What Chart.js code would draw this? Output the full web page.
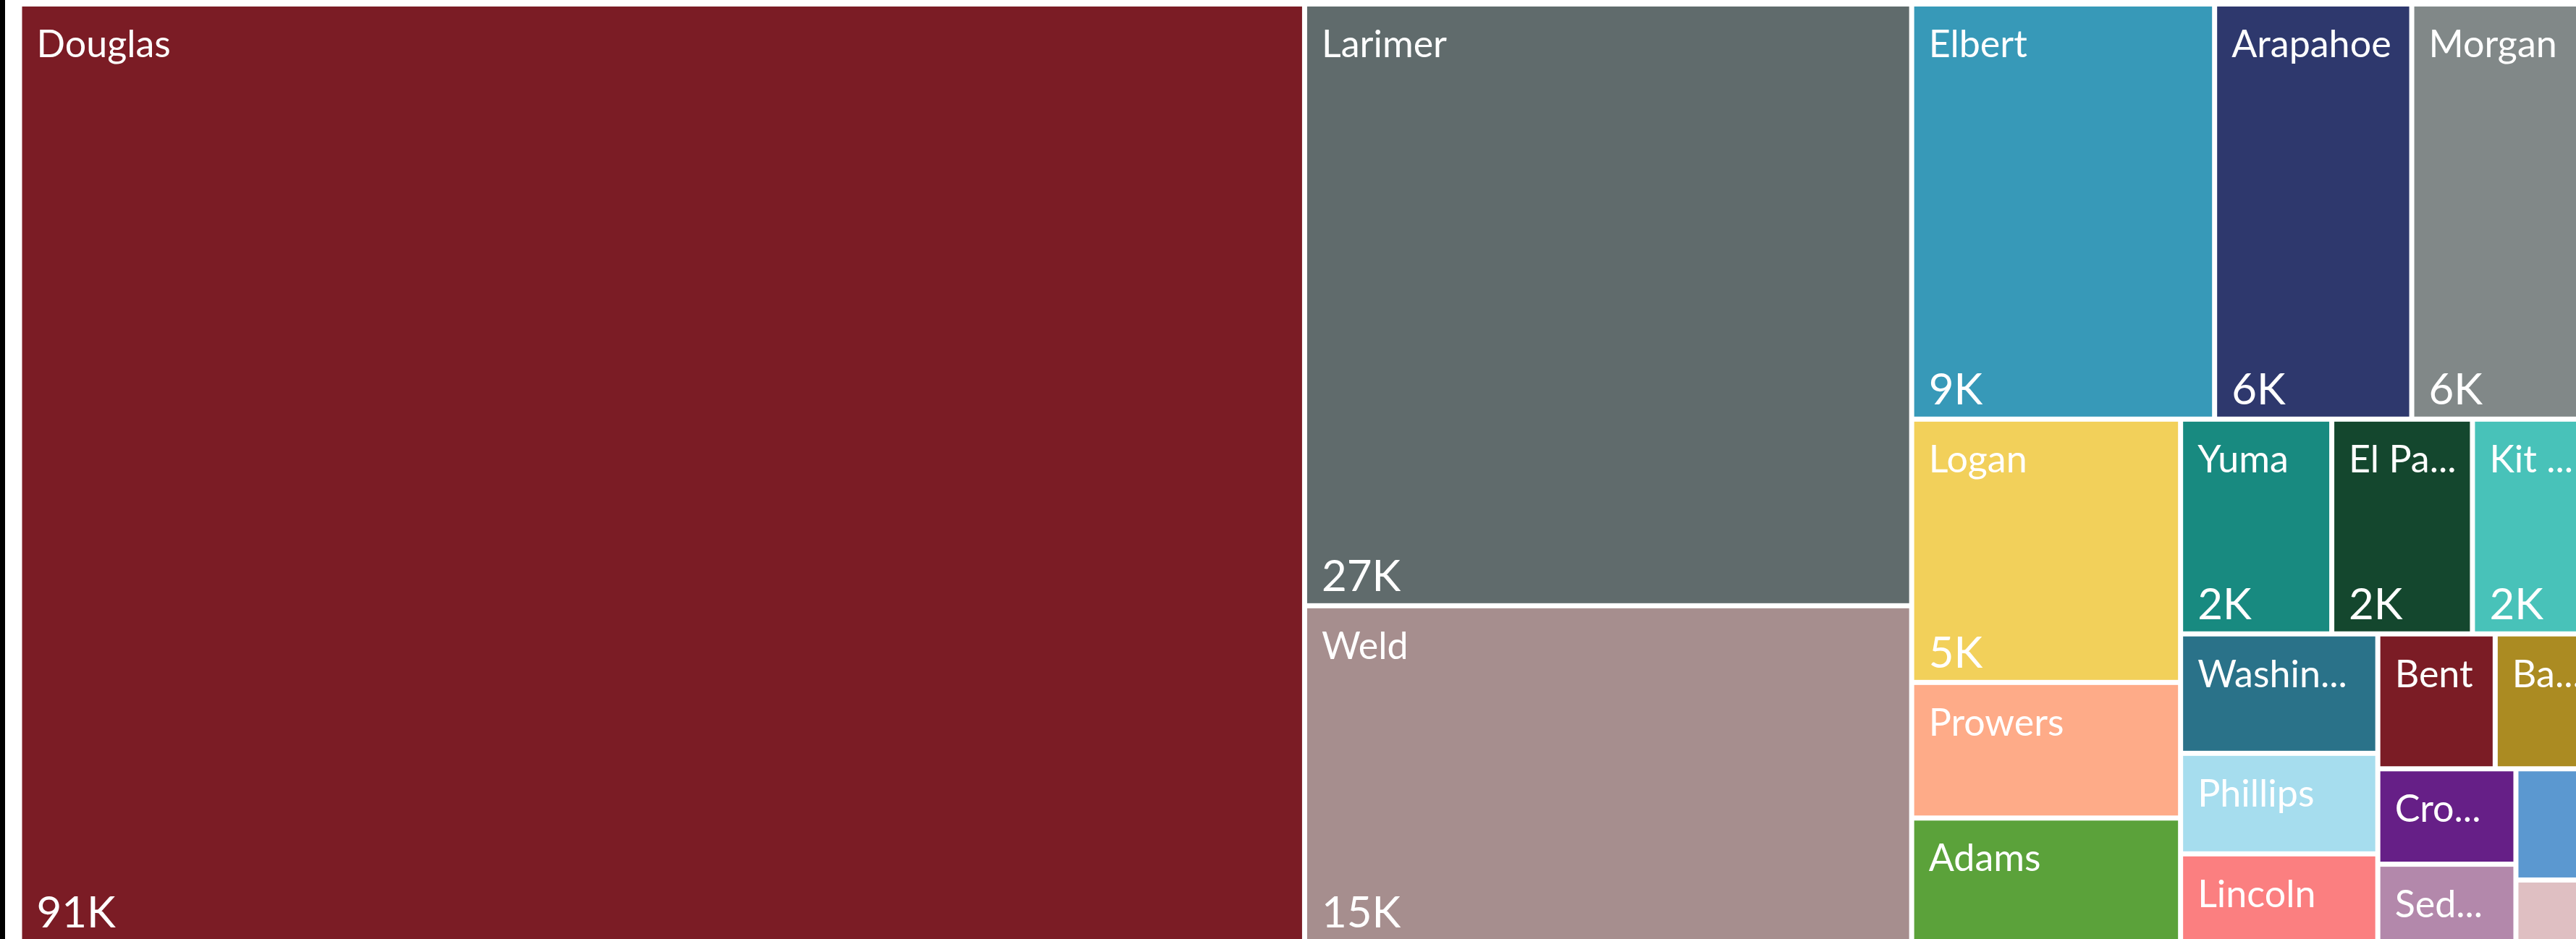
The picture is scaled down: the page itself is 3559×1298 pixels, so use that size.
<!DOCTYPE html>
<html>
<head>
<meta charset="utf-8">
<title>Treemap by county</title>
<script src="https://cdn.jsdelivr.net/npm/chart.js@4.4.0/dist/chart.umd.min.js"></script>
<style>
  html, body { margin: 0; padding: 0; background: #fff; overflow: hidden; }
  #wrap { position: relative; width: 3559px; height: 1298px; }
  #edge { position: absolute; left: 0; top: 0; width: 7px; height: 100%; background: #000; z-index: 2; }
</style>
</head>
<body>
<div id="wrap">
  <div id="edge"></div>
  <canvas id="treeChart"></canvas>
</div>
<script>
// counties, sorted by value (thousands)
var counties = ['Douglas', 'Larimer', 'Weld', 'Elbert', 'Arapahoe', 'Morgan', 'Logan', 'Prowers', 'Adams',
  'Yuma', 'El Paso', 'Kit Carson', 'Washington', 'Phillips', 'Lincoln', 'Bent', 'Baca', 'Crowley',
  'Sedgwick', 'Cheyenne', 'Kiowa'];
var values = [90.6, 27.45, 15.35, 9.45, 6.15, 6.05, 5.32, 2.74, 2.51,
  2.44, 2.27, 2.15, 1.77, 1.49, 1.31, 1.19, 1.12, 0.99,
  0.81, 0.75, 0.42];
var colors = ['#7b1c25', '#606b6c', '#a68e8e', '#3799b8', '#2e386d', '#818888', '#f2d05a', '#feab88', '#5ba23a',
  '#188a80', '#14472e', '#48c2b9', '#2a7289', '#a6ddee', '#fb7f80', '#7b1c25', '#ab8b22', '#661f87',
  '#b388ab', '#5b98d0', '#dfbfc2'];

// area the treemap is laid out in (the visual runs a bit past the window on the right)
var BOX = { x0: 27, y0: 5.5, x1: 3600, y1: 1302.5 };
var GAP = 7;
var NAME_FONT = '52px Lato';
var VALUE_FONT = '60px Lato';

// squarified layout, golden-ratio variant
function squarify(vals, x0, y0, x1, y1) {
  var ratio = (1 + Math.sqrt(5)) / 2;
  var out = [];
  var n = vals.length, i0 = 0, i1 = 0;
  var total = vals.reduce(function (a, b) { return a + b; }, 0);
  while (i0 < n) {
    var dx = x1 - x0, dy = y1 - y0;
    var sum = vals[i1++], minV = sum, maxV = sum;
    var alpha = Math.max(dy / dx, dx / dy) / (total * ratio);
    var beta = sum * sum * alpha;
    var best = Math.max(maxV / beta, beta / minV);
    for (; i1 < n; ++i1) {
      var v = vals[i1];
      var s = sum + v, mn = Math.min(minV, v), mx = Math.max(maxV, v);
      beta = s * s * alpha;
      var r = Math.max(mx / beta, beta / mn);
      if (r > best) break;
      sum = s; minV = mn; maxV = mx; best = r;
    }
    var i;
    if (dx < dy) {
      var h = dy * sum / total, x = x0;
      for (i = i0; i < i1; i++) {
        var w = dx * vals[i] / sum;
        out[i] = { x0: x, y0: y0, x1: x + w, y1: y0 + h };
        x += w;
      }
      y0 += h;
    } else {
      var ww = dx * sum / total, y = y0;
      for (i = i0; i < i1; i++) {
        var hh = dy * vals[i] / sum;
        out[i] = { x0: x0, y0: y, x1: x0 + ww, y1: y + hh };
        y += hh;
      }
      x0 += ww;
    }
    total -= sum;
    i0 = i1;
  }
  return out;
}

function fitName(ctx, text, room) {
  if (ctx.measureText(text).width <= room) return text;
  for (var k = text.length - 1; k >= 2; k--) {
    var t = text.slice(0, k) + '...';
    if (ctx.measureText(t).width <= room) return t;
  }
  return '';
}

var treemapPlugin = {
  id: 'treemap',
  beforeDatasetsDraw: function (chart) {
    var ctx = chart.ctx;
    var xs = chart.scales.x, ys = chart.scales.y;
    var rects = squarify(values, BOX.x0, BOX.y0, BOX.x1, BOX.y1);
    ctx.save();
    rects.forEach(function (r, i) {
      var left = xs.getPixelForValue(r.x0) + GAP / 2;
      var right = xs.getPixelForValue(r.x1) - GAP / 2;
      var top = ys.getPixelForValue(r.y0) + GAP / 2;
      var bottom = ys.getPixelForValue(r.y1) - GAP / 2;
      ctx.fillStyle = colors[i];
      ctx.fillRect(left, top, right - left, bottom - top);

      var w = right - left, h = bottom - top;
      ctx.fillStyle = '#ffffff';
      ctx.textBaseline = 'alphabetic';
      ctx.textAlign = 'left';
      if (h >= 90) {
        ctx.font = NAME_FONT;
        var name = fitName(ctx, counties[i], w - 37);
        if (name) ctx.fillText(name, left + 20, top + 70);
      }
      if (h >= 220) {
        ctx.font = VALUE_FONT;
        var label = Math.round(values[i]) + 'K';
        if (ctx.measureText(label).width <= w - 37) ctx.fillText(label, left + 20, bottom - 17);
      }
    });
    ctx.restore();
  }
};

var ctx = document.getElementById('treeChart').getContext('2d');
var treeChart = new Chart(ctx, {
  type: 'scatter',
  data: { labels: counties, datasets: [{ data: [] }] },
  options: {
    responsive: true,
    maintainAspectRatio: false,
    animation: false,
    layout: { padding: 0 },
    plugins: { legend: { display: false }, tooltip: { enabled: false } },
    scales: {
      x: { type: 'linear', display: false, min: 0, max: 3559 },
      y: { type: 'linear', display: false, min: 0, max: 1298, reverse: true }
    }
  },
  plugins: [treemapPlugin]
});
</script>
</body>
</html>
